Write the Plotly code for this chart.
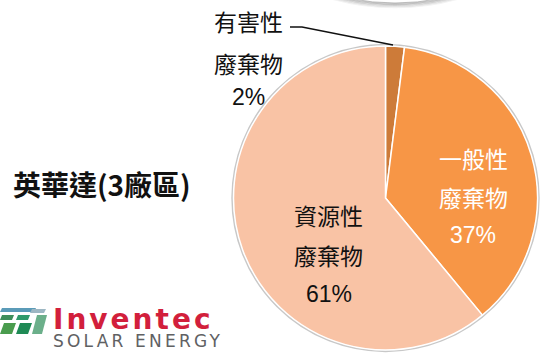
import plotly.graph_objects as go

# Waste composition, 英華達 (3 sites)
categories = ["有害性廢棄物", "一般性廢棄物", "資源性廢棄物"]
label_lines = [["有害性", "廢棄物"], ["一般性", "廢棄物"], ["資源性", "廢棄物"]]
values = [2, 37, 61]
colors = ["#CD7B39", "#F79646", "#F9C3A5"]
text_colors = ["#111111", "#FFFFFF", "#111111"]
title_text = "英華達(3廠區)"

W, H = 550, 354


def px(x):
    return x / W


def py(y):
    return 1 - y / H


# pie geometry in pixels
cx, cy, r = 385.5, 198.0, 152.0

fig = go.Figure()
fig.add_trace(go.Pie(
    labels=categories,
    values=values,
    sort=False,
    direction="clockwise",
    rotation=0,
    marker=dict(colors=colors, line=dict(color="#FFFFFF", width=1.5)),
    textinfo="none",
    hoverinfo="label+percent",
    showlegend=False,
    domain=dict(x=[px(cx - r), px(cx + r)], y=[py(cy + r), py(cy - r)]),
))

FONT = "Liberation Sans, Arial, Noto Sans CJK TC, sans-serif"
annotations = []

# slice labels: two text lines plus the percentage, each on its own row
label_pos = [(249, [23, 65, 97]), (473, [160, 199, 235]), (328.5, [217, 257, 294])]
for lines, v, col, (x, ys) in zip(label_lines, values, text_colors, label_pos):
    rows = lines + [f"{v}%"]
    for t, y in zip(rows, ys):
        annotations.append(dict(
            x=px(x), y=py(y), xref="paper", yref="paper", text=t,
            showarrow=False, xanchor="center", yanchor="middle",
            font=dict(family=FONT, size=23, color=col),
        ))

# site title
annotations.append(dict(
    x=px(11), y=py(184), xref="paper", yref="paper", text=title_text,
    showarrow=False, xanchor="left", yanchor="middle",
    font=dict(family="Noto Sans CJK TC, sans-serif", size=28, color="#111111", weight="bold"),
))

# company logo text (two styled lines in one block)
logo_text = (
    '<span style="font-size:28px;font-weight:bold;letter-spacing:3px;fill:#D21F3C">Inventec</span>'
    '<br><span style="font-size:17px;letter-spacing:3.2px;fill:#606163">SOLAR ENERGY</span>'
)
annotations.append(dict(
    x=px(51), y=py(327), xref="paper", yref="paper", text=logo_text,
    showarrow=False, xanchor="left", yanchor="middle", align="left",
    font=dict(family="DejaVu Sans, sans-serif", size=14, color="#606163"),
))

shapes = []

# faint grey rim around the pie
shapes.append(dict(
    type="circle", xref="paper", yref="paper", layer="below",
    x0=px(cx - r - 1.2), x1=px(cx + r + 1.2), y0=py(cy + r + 1.2), y1=py(cy - r - 1.2),
    line=dict(color="#C8C8C8", width=2), fillcolor="rgba(0,0,0,0)",
))

# bottom edge of the neighbouring pie above, with its soft shadow
ucx, ucy, ur = 395.0, -227.0, 230.0
for i, a in enumerate([0.08, 0.14, 0.22, 0.32]):
    rr = ur + 4.5 - i * 1.2
    shapes.append(dict(
        type="circle", xref="paper", yref="paper", layer="below",
        x0=px(ucx - rr), x1=px(ucx + rr), y0=py(ucy + rr), y1=py(ucy - rr),
        line=dict(color=f"rgba(90,90,90,{a})", width=1.6), fillcolor="rgba(0,0,0,0)",
    ))
shapes.append(dict(
    type="circle", xref="paper", yref="paper", layer="below",
    x0=px(ucx - ur), x1=px(ucx + ur), y0=py(ucy + ur), y1=py(ucy - ur),
    line=dict(color="rgba(150,150,150,0.6)", width=1), fillcolor="#FFFFFF",
))

# leader line for the small slice
shapes.append(dict(
    type="path", xref="paper", yref="paper",
    path=f"M {px(290)} {py(27)} L {px(302)} {py(27)} L {px(393)} {py(45)}",
    line=dict(color="#111111", width=1.3),
))


# logo mark: slanted green / blue bars
def para(x0, y0, x1, y1, slant, color):
    return dict(
        type="path", xref="paper", yref="paper",
        path=(f"M {px(x0 + slant)} {py(y0)} L {px(x1 + slant)} {py(y0)} "
              f"L {px(x1)} {py(y1)} L {px(x0)} {py(y1)} Z"),
        fillcolor=color, line=dict(width=0),
    )


shapes += [
    para(0, 308, 34, 312, 2, "#5B9BB8"),
    para(0, 315, 12, 320, 2, "#3E8E5A"),
    para(16, 315, 28, 320, 2, "#2F9A6A"),
    para(30, 309, 44, 313, 2, "#9DB7C3"),
    para(0, 323, 12, 334, 4, "#4A9C4E"),
    para(16, 323, 28, 334, 4, "#1F8A55"),
    para(32, 315, 42, 334, 5, "#6BAF8A"),
]

fig.update_layout(
    width=W, height=H,
    margin=dict(l=0, r=0, t=0, b=0),
    paper_bgcolor="#FFFFFF",
    plot_bgcolor="#FFFFFF",
    annotations=annotations,
    shapes=shapes,
)

fig.write_html("out.html")
